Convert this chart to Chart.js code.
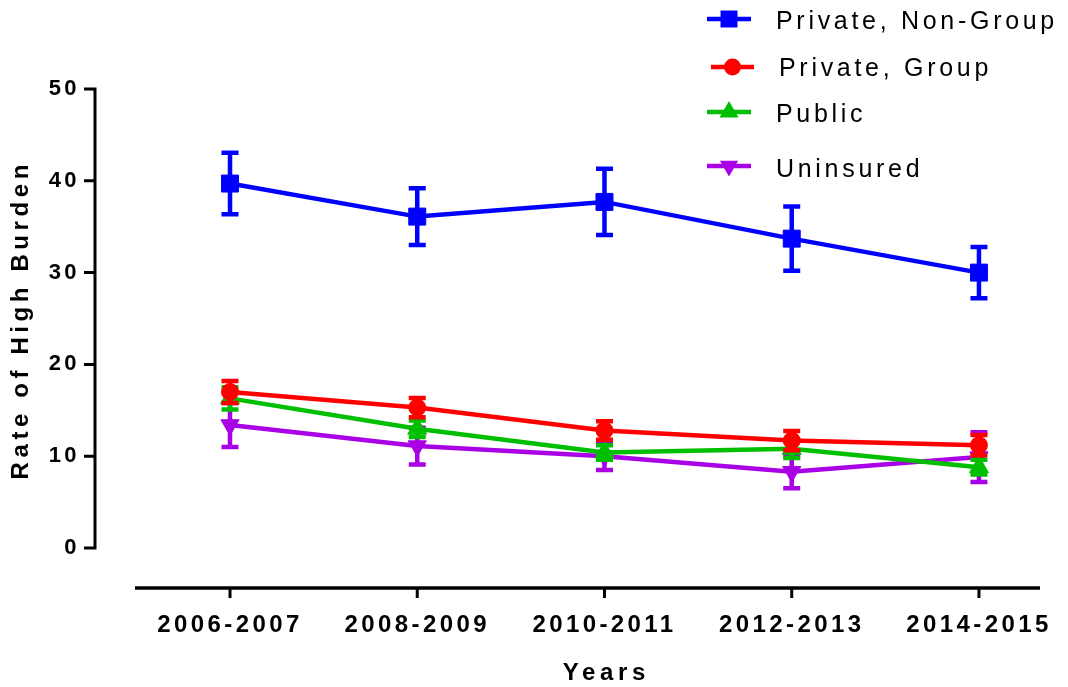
<!DOCTYPE html>
<html>
<head>
<meta charset="utf-8">
<script src="https://cdn.jsdelivr.net/npm/chart.js@4"></script>
<style>
  html, body { margin: 0; padding: 0; background: #fff; }
  #wrap { width: 1068px; height: 687px; position: relative; }
</style>
</head>
<body>
<div id="wrap"><canvas id="c" width="1068" height="687"></canvas></div>
<script>
// ---- data ----
const categories = ['2006-2007', '2008-2009', '2010-2011', '2012-2013', '2014-2015'];
const seriesNames = ['Private, Non-Group', 'Private, Group', 'Public', 'Uninsured'];
const privateNonGroup    = [39.7, 36.1, 37.7, 33.7, 30.0];
const privateNonGroupErr = [3.35, 3.1, 3.6, 3.5, 2.8];
const privateGroup       = [17.0, 15.3, 12.8, 11.7, 11.2];
const privateGroupErr    = [1.2, 1.05, 1.0, 1.05, 1.1];
const publicIns          = [16.3, 13.0, 10.4, 10.8, 8.8];
const publicInsErr       = [1.2, 0.9, 0.8, 1.0, 0.8];
const uninsured          = [13.4, 11.1, 10.0, 8.3, 9.9];
const uninsuredErr       = [2.4, 2.0, 1.5, 1.8, 2.7];
const yTicks = [0, 10, 20, 30, 40, 50];
const xTitle = 'Years';
const yTitle = 'Rate of High Burden';

const FONT = '"Liberation Sans", Arial, Helvetica, sans-serif';
Chart.defaults.font.family = FONT;
Chart.defaults.color = '#000';

function mk(name, vals, errs, color, style, radius, rotation) {
  return {
    label: name,
    data: vals.map((v, i) => ({ x: i, y: v })),
    errors: errs,
    borderColor: color,
    backgroundColor: color,
    pointBackgroundColor: color,
    pointBorderColor: color,
    borderWidth: 4.5,
    pointStyle: style,
    pointRadius: radius,
    pointHoverRadius: radius,
    pointRotation: rotation,
    pointBorderWidth: 1,
    tension: 0,
    fill: false
  };
}

const datasets = [
  mk(seriesNames[0], privateNonGroup, privateNonGroupErr, '#0000FF', 'rect', 12, 0),
  mk(seriesNames[1], privateGroup, privateGroupErr, '#FF0000', 'circle', 8.5, 0),
  mk(seriesNames[2], publicIns, publicInsErr, '#00BE00', 'triangle', 11, 0),
  mk(seriesNames[3], uninsured, uninsuredErr, '#A900E6', 'triangle', 10.5, 180)
];

// error bars drawn under each dataset's line/markers
const errorBars = {
  id: 'errorBars',
  beforeDatasetDraw(chart, args) {
    const ds = chart.data.datasets[args.index];
    const xs = chart.scales.x, ys = chart.scales.y, ctx = chart.ctx;
    ctx.save();
    ctx.strokeStyle = ds.borderColor;
    ctx.lineWidth = 4.5;
    ctx.lineCap = 'butt';
    ds.data.forEach((p, j) => {
      const e = ds.errors[j];
      const x = xs.getPixelForValue(p.x);
      const yt = ys.getPixelForValue(p.y + e);
      const yb = ys.getPixelForValue(p.y - e);
      ctx.beginPath();
      ctx.moveTo(x, yt); ctx.lineTo(x, yb);
      ctx.moveTo(x - 8.5, yt); ctx.lineTo(x + 8.5, yt);
      ctx.moveTo(x - 8.5, yb); ctx.lineTo(x + 8.5, yb);
      ctx.stroke();
    });
    ctx.restore();
  }
};

function drawMarker(ctx, style, x, y, r, rot, color) {
  ctx.save();
  ctx.fillStyle = color;
  ctx.beginPath();
  if (style === 'rect') {
    const s = Math.SQRT1_2 * r;
    ctx.rect(x - s, y - s, 2 * s, 2 * s);
  } else if (style === 'circle') {
    ctx.arc(x, y, r, 0, Math.PI * 2);
  } else {
    const dir = rot === 180 ? -1 : 1;
    ctx.moveTo(x, y - dir * r);
    ctx.lineTo(x + Math.sin(Math.PI * 2 / 3) * r, y + dir * r / 2);
    ctx.lineTo(x - Math.sin(Math.PI * 2 / 3) * r, y + dir * r / 2);
    ctx.closePath();
  }
  ctx.fill();
  ctx.restore();
}

// axes (offset style), titles and legend
const decor = {
  id: 'decor',
  beforeDraw(chart) { chart.ctx.letterSpacing = '3.4px'; },
  beforeLayout(chart) { chart.ctx.letterSpacing = '3.4px'; },
  afterDatasetsDraw(chart) {
    const ctx = chart.ctx, xs = chart.scales.x, ys = chart.scales.y, ca = chart.chartArea;
    ctx.save();
    ctx.strokeStyle = '#000';
    ctx.lineCap = 'butt';
    // y axis
    ctx.lineWidth = 3;
    const yTop = ys.getPixelForValue(yTicks[yTicks.length - 1]);
    const yBot = ys.getPixelForValue(yTicks[0]);
    ctx.beginPath();
    ctx.moveTo(ca.left, yTop - 1.5); ctx.lineTo(ca.left, yBot + 1.5);
    yTicks.forEach(v => {
      const py = ys.getPixelForValue(v);
      ctx.moveTo(ca.left - 11, py); ctx.lineTo(ca.left, py);
    });
    ctx.stroke();
    // x axis
    const axY = ca.bottom + 40;
    ctx.lineWidth = 3.5;
    ctx.beginPath();
    ctx.moveTo(135, axY); ctx.lineTo(ca.right, axY);
    ctx.stroke();
    ctx.lineWidth = 3;
    ctx.beginPath();
    categories.forEach((c, i) => {
      const px = xs.getPixelForValue(i);
      ctx.moveTo(px, axY); ctx.lineTo(px, axY + 10);
    });
    ctx.stroke();
    ctx.restore();
  },
  afterDraw(chart) {
    const ctx = chart.ctx;
    ctx.save();
    ctx.fillStyle = '#000';
    // y title
    ctx.font = 'bold 24px ' + FONT;
    ctx.letterSpacing = '4.6px';
    ctx.textAlign = 'center';
    ctx.textBaseline = 'middle';
    ctx.save();
    ctx.translate(21, 322);
    ctx.rotate(-Math.PI / 2);
    ctx.fillText(yTitle, 2.3, 0);
    ctx.restore();
    // x title
    ctx.letterSpacing = '4.6px';
    ctx.fillText(xTitle, 604 + 2.3, 673);
    // legend
    const rows = [
      { ly: 19, ty: 22, x0: 707, x1: 751, tx: 776 },
      { ly: 67, ty: 69, x0: 711, x1: 754, tx: 779 },
      { ly: 112, ty: 115, x0: 707, x1: 751, tx: 776 },
      { ly: 166, ty: 170, x0: 707, x1: 751, tx: 776 }
    ];
    ctx.font = '25px ' + FONT;
    ctx.letterSpacing = '3.7px';
    ctx.textAlign = 'left';
    chart.data.datasets.forEach((ds, i) => {
      const r = rows[i];
      ctx.strokeStyle = ds.borderColor;
      ctx.lineWidth = 4.5;
      ctx.beginPath();
      ctx.moveTo(r.x0, r.ly); ctx.lineTo(r.x1, r.ly);
      ctx.stroke();
      drawMarker(ctx, ds.pointStyle, (r.x0 + r.x1) / 2, r.ly, ds.pointRadius, ds.pointRotation, ds.borderColor);
      ctx.fillStyle = '#000';
      ctx.fillText(ds.label, r.tx, r.ty);
    });
    ctx.restore();
  }
};

new Chart(document.getElementById('c'), {
  type: 'line',
  data: { datasets },
  plugins: [errorBars, decor],
  options: {
    responsive: false,
    animation: false,
    events: [],
    layout: { padding: { top: 89, right: 28, left: 0, bottom: 0 } },
    plugins: { legend: { display: false }, tooltip: { enabled: false } },
    scales: {
      x: {
        type: 'linear',
        min: -0.721,
        max: 4.326,
        grid: { display: false, drawTicks: false },
        border: { display: false },
        afterBuildTicks(scale) { scale.ticks = categories.map((c, i) => ({ value: i })); },
        afterFit(scale) { scale.height = 139; scale.paddingLeft = 0; scale.paddingRight = 0; },
        ticks: {
          autoSkip: false,
          maxRotation: 0,
          padding: 63,
          font: { size: 24, weight: 'bold' },
          color: '#000',
          callback: (v) => categories[v]
        }
      },
      y: {
        min: 0,
        max: 50,
        grid: { display: false, drawTicks: false },
        border: { display: false },
        afterBuildTicks(scale) { scale.ticks = yTicks.map(v => ({ value: v })); },
        afterFit(scale) { scale.width = 95; scale.paddingTop = 0; scale.paddingBottom = 0; },
        ticks: {
          padding: 15,
          font: { size: 22, weight: 'bold' },
          color: '#000'
        }
      }
    }
  }
});
</script>
</body>
</html>
